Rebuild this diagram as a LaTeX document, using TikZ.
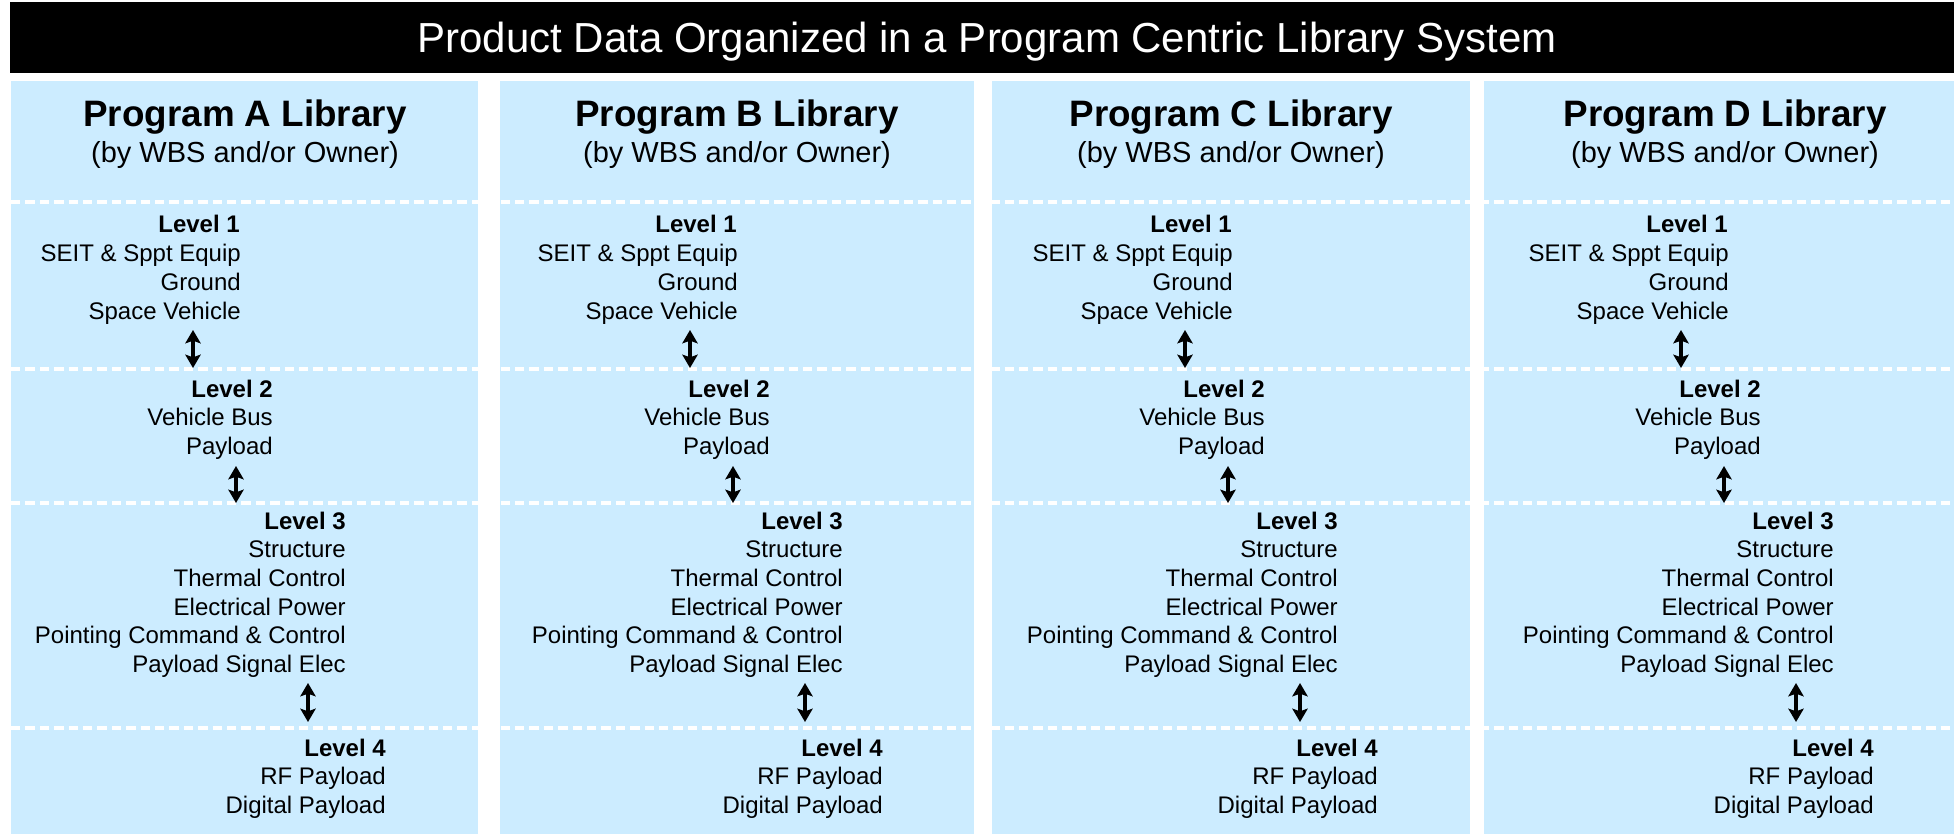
\documentclass[tikz,border=0pt]{standalone}
\usepackage{fontspec}
\setmainfont{Liberation Sans}
\usetikzlibrary{arrows.meta}
\definecolor{panelblue}{HTML}{CCECFF}
\begin{document}
\begin{tikzpicture}[x=0.75pt,y=-0.75pt,
  panel/.style={fill=panelblue, draw=none},
  titlebar/.style={fill=black, draw=none},
  maintitle/.style={inner sep=0pt, anchor=base, text=white, font=\fontsize{31.5}{38}\selectfont},
  ptitle/.style={inner sep=0pt, anchor=base, font=\fontsize{27.6}{33}\selectfont\bfseries},
  psub/.style={inner sep=0pt, anchor=base, font=\fontsize{21.75}{26}\selectfont},
  item/.style={inner sep=0pt, anchor=base east, font=\fontsize{18}{21.6}\selectfont},
  lvl/.style={inner sep=0pt, anchor=base east, font=\fontsize{18}{21.6}\selectfont\bfseries},
  dbl/.style={{Stealth[length=10pt,width=11.5pt,inset=2pt]}-{Stealth[length=10pt,width=11.5pt,inset=2pt]}, line width=2.6pt, black},
  sep/.style={white, line width=2.4pt, dash pattern=on 7pt off 3.8pt}]
\useasboundingbox (0,0) rectangle (1954,834);
\fill[white] (0,0) rectangle (1954,834);
% title bar
\fill[titlebar] (10,2) rectangle (1954,73);
\node[maintitle] (title) at (987,53) {Product Data Organized in a Program Centric Library System};
% panels
\fill[panel] (11,81) rectangle (478,834);
\fill[panel] (500,81) rectangle (974,834);
\fill[panel] (992,81) rectangle (1470,834);
\fill[panel] (1484,81) rectangle (1954,834);
% separators
\foreach \yy in {202,369,503,728}{
  \draw[sep] (11,\yy) -- (1954,\yy);
}
% panel contents
\foreach \dx/\L/\tx in {0/A/245, 497/B/737, 992/C/1231, 1488/D/1725}{
  \node[ptitle] (t\L) at (\tx,127) {Program \L\ Library};
  \node[psub] (s\L) at (\tx,163) {(by WBS and/or Owner)};
  % Level 1
  \node[lvl] (l1\L) at (240+\dx,233) {Level 1};
  \node[item] (l1\L a) at (241+\dx,261.7) {SEIT \& Sppt Equip};
  \node[item] (l1\L b) at (241+\dx,290.4) {Ground};
  \node[item] (l1\L c) at (241+\dx,319.1) {Space Vehicle};
  % Level 2
  \node[lvl] (l2\L) at (273+\dx,397) {Level 2};
  \node[item] (l2\L a) at (273+\dx,425.7) {Vehicle Bus};
  \node[item] (l2\L b) at (273+\dx,454.4) {Payload};
  % Level 3
  \node[lvl] (l3\L) at (346+\dx,529) {Level 3};
  \node[item] (l3\L a) at (346+\dx,557.7) {Structure};
  \node[item] (l3\L b) at (346+\dx,586.4) {Thermal Control};
  \node[item] (l3\L c) at (346+\dx,615.1) {Electrical Power};
  \node[item] (l3\L d) at (346+\dx,643.8) {Pointing Command \& Control};
  \node[item] (l3\L e) at (346+\dx,672.5) {Payload Signal Elec};
  % Level 4
  \node[lvl] (l4\L) at (386+\dx,756) {Level 4};
  \node[item] (l4\L a) at (386+\dx,784.7) {RF Payload};
  \node[item] (l4\L b) at (386+\dx,813.4) {Digital Payload};
  % arrows
  \coordinate (a1\L t) at (193+\dx,330);
  \coordinate (a1\L b) at (193+\dx,368);
  \coordinate (a2\L t) at (236+\dx,466);
  \coordinate (a2\L b) at (236+\dx,503);
  \coordinate (a3\L t) at (308+\dx,683);
  \coordinate (a3\L b) at (308+\dx,722);
  \draw[dbl] (a1\L t) -- (a1\L b);
  \draw[dbl] (a2\L t) -- (a2\L b);
  \draw[dbl] (a3\L t) -- (a3\L b);
}
\end{tikzpicture}
\end{document}
